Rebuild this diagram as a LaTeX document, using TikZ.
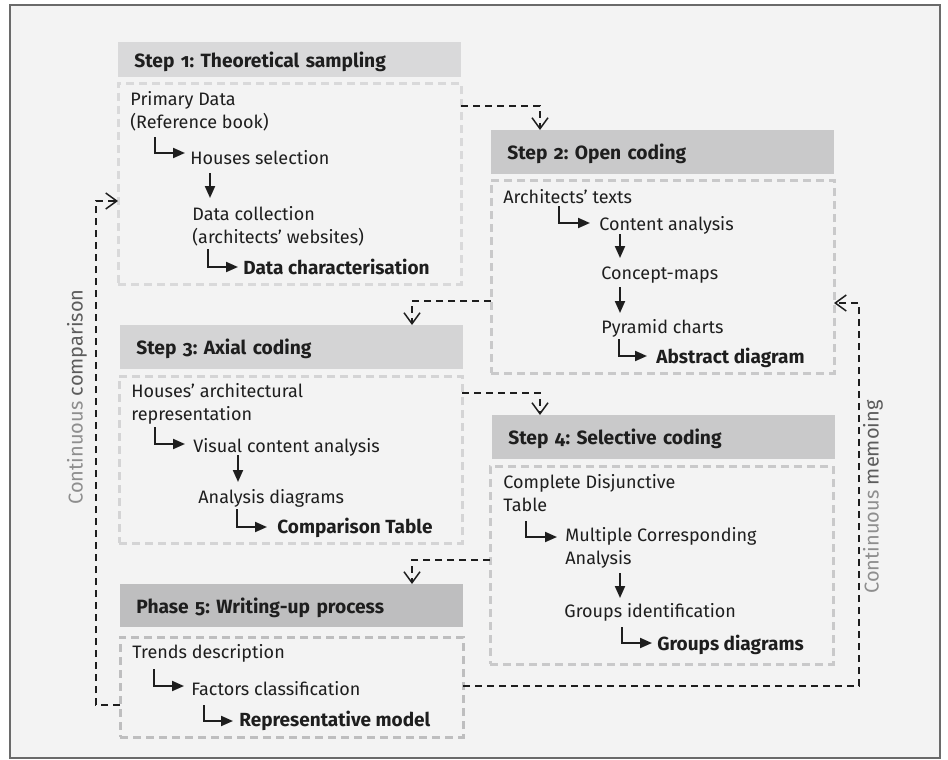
\documentclass[tikz,border=0pt]{standalone}
\usepackage{fontspec}
\setmainfont{Fira Sans}[Numbers=OldStyle]
\usepackage{tikz}
\usetikzlibrary{calc, arrows.meta}
\frenchspacing

\definecolor{bgcol}{HTML}{F3F3F3}
\definecolor{framecol}{HTML}{6A6A6A}
\definecolor{txtcol}{HTML}{1E1E1E}
\definecolor{headA}{HTML}{D9D9DA}
\definecolor{headB}{HTML}{C9C9CA}
\definecolor{headC}{HTML}{D4D4D5}
\definecolor{headD}{HTML}{C9C9CA}
\definecolor{headE}{HTML}{BEBEBF}
\definecolor{softgray}{HTML}{8E8E8E}
\definecolor{midgray}{HTML}{5C5C5C}

\begin{document}
\begin{tikzpicture}[x=0.5pt, y=-0.5pt,
    every node/.style={text=txtcol},
    item/.style={anchor=base west, inner sep=0pt, align=left, font=\fontsize{9}{11.5}\selectfont},
    result/.style={item, font=\bfseries\fontsize{9.5}{11.5}\selectfont},
    head/.style={anchor=north west, minimum width=171.5pt, text width=155.5pt, inner xsep=8pt,
      inner ysep=0pt, align=left, text height=8.5pt, text depth=1pt, font=\bfseries\fontsize{9.6}{12}\selectfont},
    panel/.style={anchor=north west, minimum width=171.5pt, outer sep=0pt, line width=1.5pt,
      dash pattern=on 4pt off 2.5pt},
    stepline/.style={draw=txtcol, line width=1pt, -{Triangle[length=6pt, width=5pt]}},
    flow/.style={draw=txtcol, line width=0.75pt, dash pattern=on 3.5pt off 2.5pt,
      -{Straight Barb[length=5.5pt, width=8pt, line width=0.75pt]}},
    loopnote/.style={rotate=90, inner sep=0pt, font=\fontsize{10}{12}\selectfont}]

  % frame
  \useasboundingbox (0,0) rectangle (948,760);
  \draw[framecol, fill=bgcol, line width=0.6pt] (10,5) rectangle (940,758);

  % step 1 (two-line items sit on their last baseline)
  \node (h1) [head, fill=headA, minimum height=17.5pt] at (118,42) {Step 1: Theoretical sampling};
  \node (b1) [panel, draw=headA, minimum height=100.5pt] at (118,83) {};
  \node (t11) [item] at (130,128) {Primary Data\\(Reference book)};
  \node (t12) [item] at (190,164) {Houses selection};
  \node (t13) [item] at (192,243) {Data collection\\(architects’ websites)};
  \node (t14) [result] at (243,274) {Data characterisation};
  \draw[stepline] ($(t11.base west)+(25,9)$) |- ($(t12.base west)+(-5,-11)$);
  \draw[stepline] ($(t12.base west)+(20,9)$) -- ($(t13.base west)+(18,-45)$);
  \draw[stepline] ($(t13.base west)+(16,6)$) |- ($(t14.base west)+(-5,-7)$);

  % step 2
  \node (h2) [head, fill=headB, minimum height=22pt] at (491,130) {Step 2: Open coding};
  \node (b2) [panel, draw=headB, minimum height=96.5pt] at (491,180) {};
  \node (t21) [item] at (503,203) {Architects’ texts};
  \node (t22) [item] at (599,230) {Content analysis};
  \node (t23) [item] at (601,279) {Concept-maps};
  \node (t24) [item] at (601,333) {Pyramid charts};
  \node (t25) [result] at (656,363) {Abstract diagram};
  \draw[stepline] ($(t21.base west)+(56,3)$) |- ($(t22.base west)+(-9,-7)$);
  \draw[stepline] ($(t22.base west)+(21,4)$) -- ($(t23.base west)+(19,-21)$);
  \draw[stepline] ($(t23.base west)+(19,8)$) -- ($(t24.base west)+(19,-20)$);
  \draw[stepline] ($(t24.base west)+(18,6)$) |- ($(t25.base west)+(-9,-7)$);

  % step 3
  \node (h3) [head, fill=headC, minimum height=22pt] at (120,325) {Step 3: Axial coding};
  \node (b3) [panel, draw=headC, minimum height=83.5pt] at (119,376) {};
  \node (t31) [item] at (131,420) {Houses’ architectural\\representation};
  \node (t32) [item] at (193,452) {Visual content analysis};
  \node (t33) [item] at (198,503) {Analysis diagrams};
  \node (t34) [result] at (277,533) {Comparison Table};
  \draw[stepline] ($(t31.base west)+(24,7)$) |- ($(t32.base west)+(-8,-8)$);
  \draw[stepline] ($(t32.base west)+(45,3)$) -- ($(t33.base west)+(40,-21)$);
  \draw[stepline] ($(t33.base west)+(39,6)$) |- ($(t34.base west)+(-10,-6)$);

  % step 4
  \node (h4) [head, fill=headD, minimum height=22pt] at (492,415) {Step 4: Selective coding};
  \node (b4) [panel, draw=headD, minimum height=99pt] at (490,466) {};
  \node (t41) [item] at (503,511) {Complete Disjunctive\\Table};
  \node (t42) [item] at (565,564) {Multiple Corresponding\\Analysis};
  \node (t43) [item] at (564,617) {Groups identification};
  \node (t44) [result] at (657,650) {Groups diagrams};
  \draw[stepline] ($(t41.base west)+(23,10)$) |- ($(t42.base west)+(-8,-27)$);
  \draw[stepline] ($(t42.base west)+(55,9)$) -- ($(t43.base west)+(56,-19)$);
  \draw[stepline] ($(t43.base west)+(58,10)$) |- ($(t44.base west)+(-5,-7)$);

  % phase 5
  \node (h5) [head, fill=headE, minimum height=21.5pt] at (120,584) {Phase 5: Writing-up process};
  \node (b5) [panel, draw=headE, minimum height=50pt] at (120,637) {};
  \node (t51) [item] at (132,658) {Trends description};
  \node (t52) [item] at (191,695) {Factors classification};
  \node (t53) [result] at (239,726) {Representative model};
  \draw[stepline] ($(t51.base west)+(22,11)$) |- ($(t52.base west)+(-7,-9)$);
  \draw[stepline] ($(t52.base west)+(13,10)$) |- ($(t53.base west)+(-6,-5)$);

  % links between the steps
  \draw[flow] ([yshift=-11.5pt]b1.north east) -| ([xshift=24.5pt]h2.north west);
  \draw[flow] ([yshift=-60.5pt]b2.north west) -| ([xshift=146pt]h3.north west);
  \draw[flow] ([yshift=-8.5pt]b3.north east) -| ([xshift=24pt]h4.north west);
  \draw[flow] ([yshift=-47pt]b4.north west) -| ([xshift=146pt]h5.north west);

  % feedback loops
  \coordinate (memo) at (859,303);
  \coordinate (comp) at (96,201);
  \draw[flow] ([yshift=-24.5pt]b5.north east) -| (memo) -- ([yshift=-61.5pt]b2.north east);
  \draw[flow] ([yshift=-34pt]b5.north west) -| (comp) -- ([yshift=-59pt]b1.north west);
  \node (cc) [loopnote] at (77,397) {\textcolor{softgray}{Continuous} \textcolor{midgray}{comparison}};
  \node (cm) [loopnote] at (873,497) {\textcolor{softgray}{Continuous} \textcolor{midgray}{memoing}};
\end{tikzpicture}
\end{document}
